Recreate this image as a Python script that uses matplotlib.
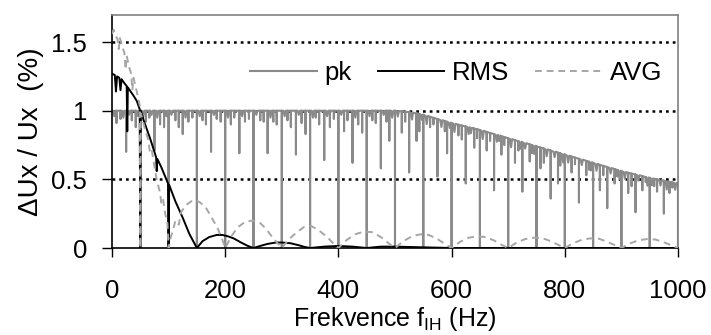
import numpy as np
import matplotlib
matplotlib.use('Agg')
import matplotlib.pyplot as plt

plt.rcParams['font.family'] = ['Liberation Sans', 'DejaVu Sans']
plt.rcParams['mathtext.fontset'] = 'custom'
plt.rcParams['mathtext.rm'] = 'Liberation Sans'
plt.rcParams['mathtext.it'] = 'Liberation Sans'

# pk - obálka (bez propadů)
pk_env_f = [0, 500, 525, 550, 575, 600, 625, 650, 675, 700, 725, 750, 775, 800,
            825, 850, 875, 900, 925, 950, 975, 1000]
pk_env_v = [1.0, 1.0, 0.99, 0.97, 0.94, 0.91, 0.885, 0.86, 0.83, 0.80, 0.77, 0.74,
            0.71, 0.68, 0.65, 0.62, 0.59, 0.56, 0.535, 0.51, 0.49, 0.47]

# pk - propady (frekvence, hodnota)
pk_dip_f = [50, 100, 150, 200, 250, 300, 350, 400, 450, 500, 550, 600, 650, 700,
            750, 800, 850, 900, 950, 1000,
            25, 75, 125, 175, 225, 275, 325, 375, 425, 475, 525, 575, 625, 675,
            725, 775, 825, 875, 925, 975,
            8, 15, 35, 42, 60, 66, 85, 92, 112, 118, 135, 142, 160, 166, 185, 192,
            210, 216, 235, 242, 262, 268, 285, 291, 310, 316, 335, 342, 360, 366,
            385, 392, 410, 416, 435, 442, 460, 466, 485, 490,
            512, 518, 538, 543, 562, 568, 588, 592, 612, 618, 640, 645, 662, 668,
            688, 693, 712, 718, 738, 742, 757, 763, 788, 792, 812, 818, 838, 843,
            862, 868, 888, 893, 912, 918, 937, 943, 958, 963, 985, 990]
pk_dip_v = [0.0] * 20 + \
           [0.70, 0.71, 0.83, 0.70, 0.69, 0.69, 0.68, 0.64, 0.62, 0.58, 0.55, 0.52,
            0.47, 0.42, 0.41, 0.36, 0.33, 0.29, 0.26, 0.25,
            0.91, 0.94, 0.93, 0.88, 0.92, 0.95, 0.90, 0.88, 0.93, 0.88, 0.92, 0.95,
            0.93, 0.90, 0.94, 0.92, 0.90, 0.95, 0.92, 0.94, 0.93, 0.92, 0.92, 0.90,
            0.93, 0.88, 0.91, 0.83, 0.95, 0.90, 0.88, 0.94, 0.85, 0.93, 0.90, 0.84,
            0.93, 0.91, 0.92, 0.78,
            0.84, 0.92, 0.78, 0.85, 0.88, 0.90, 0.85, 0.69, 0.82, 0.79, 0.73, 0.80,
            0.71, 0.78, 0.68, 0.75, 0.62, 0.71, 0.63, 0.69, 0.58, 0.62, 0.47, 0.60,
            0.55, 0.61, 0.53, 0.57, 0.42, 0.53, 0.47, 0.52, 0.40, 0.45, 0.42, 0.48,
            0.45, 0.41, 0.40, 0.44]

# pk - drobné zákmity pod obálkou (frekvence, pokles od obálky)
pk_ripple_f = [4, 20, 30, 46, 55, 70, 80, 96, 105, 130, 155, 180, 205, 230, 255,
               280, 305, 330, 355, 380, 405, 430, 455, 480, 495,
               505, 530, 548, 556, 582, 597, 605, 630, 634, 655, 680, 684, 705, 722,
               730, 746, 768, 782, 797, 806, 830, 846, 856, 881, 897, 906, 930, 946,
               954, 969, 980, 995]
pk_ripple_d = [0.04, 0.05, 0.03, 0.04, 0.05, 0.03, 0.05, 0.04, 0.03, 0.05, 0.04,
               0.03, 0.05, 0.04, 0.03, 0.05, 0.04, 0.03, 0.05, 0.04, 0.03, 0.05,
               0.04, 0.03, 0.05,
               0.04, 0.05, 0.04, 0.06, 0.05, 0.04, 0.06, 0.05, 0.04, 0.06, 0.05,
               0.04, 0.06, 0.05, 0.04, 0.06, 0.05, 0.04, 0.06, 0.05, 0.04, 0.06,
               0.05, 0.04, 0.06, 0.05, 0.04, 0.06, 0.05, 0.04, 0.06, 0.05]

# RMS
rms_f = [0, 5, 7, 9, 13, 15, 17, 22, 26, 27, 28, 33, 38, 44, 49, 50, 51, 56, 62,
         68, 75, 78, 79, 80, 87, 94, 99, 100, 101, 112, 125, 137, 150, 160, 172,
         185, 195, 205, 215, 228, 240, 250, 262, 275, 290, 300, 315, 330, 340, 350,
         375, 400, 425, 450, 475, 500, 550, 600, 1000]
rms_v = [1.27, 1.26, 1.14, 1.25, 1.24, 1.15, 1.23, 1.20, 1.18, 0.85, 1.17, 1.14,
         1.11, 1.07, 1.01, 0.0, 1.0, 0.93, 0.86, 0.79, 0.70, 0.66, 0.56, 0.65, 0.59,
         0.52, 0.47, 0.0, 0.46, 0.34, 0.22, 0.10, 0.0, 0.05, 0.08, 0.095, 0.095,
         0.085, 0.07, 0.04, 0.015, 0.0, 0.015, 0.03, 0.04, 0.04, 0.035, 0.02, 0.008,
         0.0, 0.01, 0.015, 0.01, 0.0, 0.01, 0.01, 0.005, 0.0, 0.0]

# AVG
avg_f = [0, 3, 6, 10, 12, 14, 18, 22, 24, 26, 30, 34, 36, 38, 42, 46, 49, 50, 51,
         55, 60, 64, 67, 70, 74, 78, 82, 85, 87, 90, 94, 98, 100, 104, 108, 112,
         118, 122, 130, 140, 148, 156, 165, 175, 187, 195, 200, 210, 222, 235, 248,
         260, 272, 285, 300, 312, 325, 340, 352, 365, 380, 392, 400,
         415, 430, 445, 460, 475, 490, 500, 515, 530, 545, 560, 575, 590, 600,
         615, 630, 645, 660, 675, 690, 700, 715, 730, 745, 760, 775, 790, 800,
         815, 830, 845, 860, 875, 890, 900, 915, 930, 945, 960, 975, 990, 1000]
avg_v = [1.56, 1.59, 1.55, 1.52, 1.45, 1.53, 1.47, 1.42, 1.30, 1.40, 1.32, 1.27,
         1.15, 1.24, 1.17, 1.10, 1.04, 0.0, 0.98, 0.92, 0.84, 0.79, 0.70, 0.72,
         0.62, 0.52, 0.45, 0.40, 0.33, 0.36, 0.25, 0.18, 0.0, 0.08, 0.13, 0.20,
         0.17, 0.26, 0.31, 0.34, 0.35, 0.33, 0.30, 0.23, 0.14, 0.06, 0.0, 0.08,
         0.15, 0.19, 0.20, 0.19, 0.14, 0.07, 0.0, 0.06, 0.11, 0.155, 0.16, 0.13,
         0.08, 0.03, 0.0,
         0.06, 0.10, 0.12, 0.115, 0.08, 0.03, 0.0, 0.05, 0.085, 0.10, 0.095, 0.065,
         0.025, 0.0, 0.045, 0.075, 0.085, 0.08, 0.055, 0.02, 0.0, 0.04, 0.065, 0.075,
         0.072, 0.05, 0.02, 0.0, 0.035, 0.06, 0.07, 0.068, 0.045, 0.018, 0.0, 0.033,
         0.056, 0.065, 0.062, 0.042, 0.016, 0.0]

y_ticks = [0, 0.5, 1, 1.5]
y_ticklabels = ['0', '0.5', '1', '1.5']
x_ticks = [0, 200, 400, 600, 800, 1000]

# sestavení čáry pk: obálka + úzké propady
dip_top = np.interp(pk_dip_f, pk_env_f, pk_env_v)
rip_top = np.interp(pk_ripple_f, pk_env_f, pk_env_v)
px, py = list(pk_env_f), list(pk_env_v)
for f, v, t in zip(pk_dip_f, pk_dip_v, dip_top):
    px += [f - 0.01, f, f + 0.01]
    py += [t, v, t]
for f, d, t in zip(pk_ripple_f, pk_ripple_d, rip_top):
    px += [f - 2, f, f + 2]
    py += [t, t - d, t]
order = np.argsort(np.array(px), kind='stable')
pk_x = np.array(px)[order]
pk_y = np.array(py)[order]

fig = plt.figure(figsize=(7.11, 3.35), dpi=100)
ax = fig.add_axes([0.1575, 0.2597, 0.7961, 0.6965])

for g in [0.5, 1.0, 1.5]:
    ax.axhline(g, color='black', lw=1.8, linestyle=(0, (1.1, 1.6)), zorder=1)

ax.plot(pk_x, pk_y, color='#8a8a8a', lw=1.5, label='pk', zorder=2)
ax.plot(rms_f, rms_v, color='black', lw=1.4, label='RMS', zorder=3)
ax.plot(avg_f, avg_v, color='#a6a6a6', lw=1.4, linestyle=(0, (3.5, 2.5)), label='AVG', zorder=4)

ax.set_xlim(0, 1000)
ax.set_ylim(0, 1.7)
ax.set_xticks(x_ticks)
ax.set_yticks(y_ticks)
ax.set_yticklabels(y_ticklabels)
ax.tick_params(axis='y', direction='out', length=7, width=1, labelsize=18.5, pad=11)
ax.tick_params(axis='x', direction='out', length=6.3, width=1, labelsize=18.5, pad=16)

for s in ['left', 'bottom']:
    ax.spines[s].set_color('black')
    ax.spines[s].set_linewidth(1.2)
for s in ['top', 'right']:
    ax.spines[s].set_color('#808080')
    ax.spines[s].set_linewidth(1.2)

ax.set_xlabel('Frekvence f$_{\\mathrm{IH}}$ (Hz)', fontsize=18, labelpad=1.5)
ax.set_ylabel('ΔUx / Ux  (%)', fontsize=20, labelpad=5)

ax.legend(ncol=3, loc='center left', bbox_to_anchor=(0.244, 0.75), frameon=False,
          fontsize=18.5, handlelength=2.6, handletextpad=0.3, columnspacing=1.0,
          borderpad=0, borderaxespad=0)

plt.savefig('out.png', dpi=100)
plt.close()
